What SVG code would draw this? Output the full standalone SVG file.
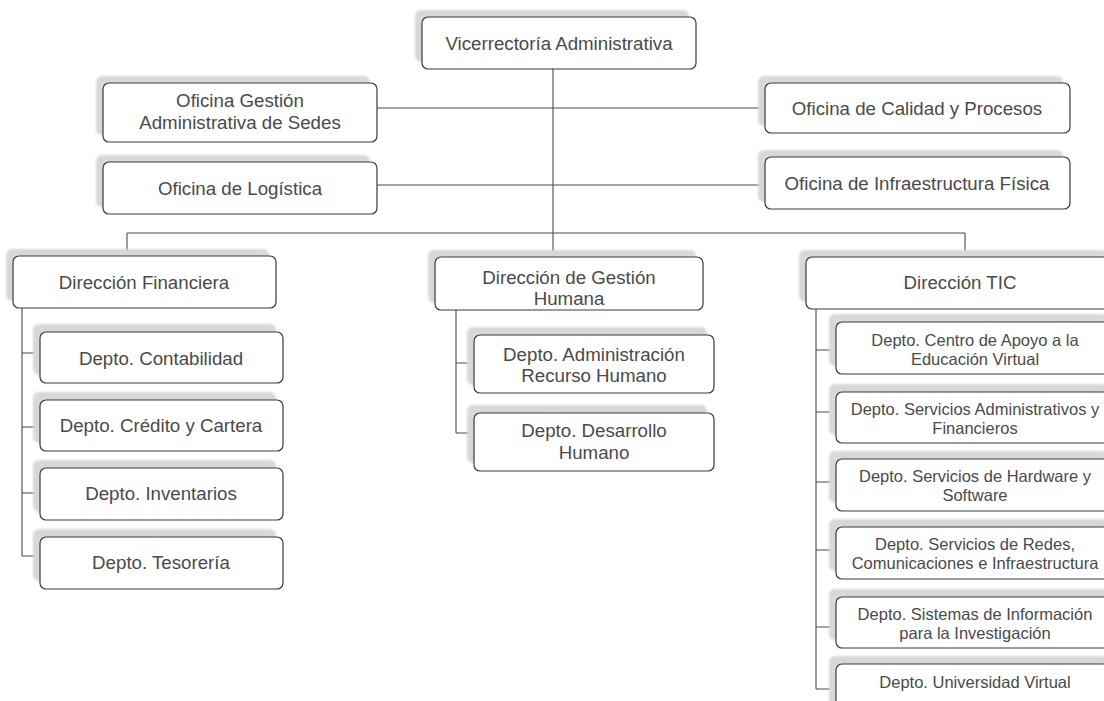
<svg xmlns="http://www.w3.org/2000/svg" width="1104" height="701" viewBox="0 0 1104 701">
<style>
.box{fill:#fff;stroke:#3a3a3a;stroke-width:1.2}
.sh{fill:#d8d8d8;filter:url(#blur)}
.t{font-family:"Liberation Sans",Arial,sans-serif;font-size:18.7px;fill:#4a4a4a;text-anchor:middle}
.s{font-size:16.5px}
.ln{stroke:#4a4a4a;stroke-width:1.1;fill:none}
</style>
<defs>
<filter id="blur" x="-5%" y="-20%" width="110%" height="140%"><feGaussianBlur stdDeviation="1.2"/></filter>
</defs>
<rect width="1104" height="701" fill="#fff"/>
<g id="connectors">
<path class="ln" d="M553 69V256M377 108H765M377 185H765M127 233H965M127 233V256M965 233V257"/>
<path class="ln" d="M22 308V556M22 353H40M22 427H40M22 493H40M22 556H40"/>
<path class="ln" d="M456 310V433M456 363H474M456 433H474"/>
<path class="ln" d="M816 309V689M816 350H836M816 412H836M816 482H836M816 550H836M816 627H836M816 689H836"/>
</g>
<g id="n-vice"><rect class="sh" x="415" y="10" width="274" height="52" rx="6"/><rect class="box" x="422" y="17" width="274" height="52" rx="6"/><text class="t" x="559" y="50">Vicerrectoría Administrativa</text></g>
<g id="n-sedes"><rect class="sh" x="96" y="76" width="274" height="59" rx="6"/><rect class="box" x="103" y="83" width="274" height="59" rx="6"/><text class="t" x="240" y="107">Oficina Gestión</text><text class="t" x="240" y="129">Administrativa de Sedes</text></g>
<g id="n-logistica"><rect class="sh" x="96" y="155" width="274" height="52" rx="6"/><rect class="box" x="103" y="162" width="274" height="52" rx="6"/><text class="t" x="240" y="195">Oficina de Logística</text></g>
<g id="n-calidad"><rect class="sh" x="758" y="76" width="305" height="50" rx="6"/><rect class="box" x="765" y="83" width="305" height="50" rx="6"/><text class="t" x="917" y="115">Oficina de Calidad  y Procesos</text></g>
<g id="n-infra"><rect class="sh" x="758" y="150" width="305" height="52" rx="6"/><rect class="box" x="765" y="157" width="305" height="52" rx="6"/><text class="t" x="917" y="190">Oficina de Infraestructura  Física</text></g>
<g id="n-financiera"><rect class="sh" x="6" y="249" width="263" height="52" rx="6"/><rect class="box" x="13" y="256" width="263" height="52" rx="6"/><text class="t" x="144" y="289">Dirección Financiera</text></g>
<g id="n-contabilidad"><rect class="sh" x="33" y="324" width="243" height="51" rx="6"/><rect class="box" x="40" y="332" width="243" height="51" rx="6"/><text class="t" x="161" y="365">Depto. Contabilidad</text></g>
<g id="n-credito"><rect class="sh" x="33" y="392" width="243" height="51" rx="6"/><rect class="box" x="40" y="400" width="243" height="51" rx="6"/><text class="t" x="161" y="432">Depto. Crédito y Cartera</text></g>
<g id="n-inventarios"><rect class="sh" x="33" y="460" width="243" height="52" rx="6"/><rect class="box" x="40" y="468" width="243" height="52" rx="6"/><text class="t" x="161" y="500">Depto. Inventarios</text></g>
<g id="n-tesoreria"><rect class="sh" x="33" y="529" width="243" height="52" rx="6"/><rect class="box" x="40" y="537" width="243" height="52" rx="6"/><text class="t" x="161" y="569">Depto. Tesorería</text></g>
<g id="n-gh"><rect class="sh" x="428" y="250" width="268" height="53" rx="6"/><rect class="box" x="435" y="257" width="268" height="53" rx="6"/><text class="t" x="569" y="284">Dirección de Gestión</text><text class="t" x="569" y="305">Humana</text></g>
<g id="n-admrh"><rect class="sh" x="467" y="327" width="240" height="58" rx="6"/><rect class="box" x="474" y="335" width="240" height="58" rx="6"/><text class="t" x="594" y="361">Depto. Administración</text><text class="t" x="594" y="382">Recurso Humano</text></g>
<g id="n-desarrollo"><rect class="sh" x="467" y="405" width="240" height="58" rx="6"/><rect class="box" x="474" y="413" width="240" height="58" rx="6"/><text class="t" x="594" y="437">Depto. Desarrollo</text><text class="t" x="594" y="459">Humano</text></g>
<g id="n-tic"><rect class="sh" x="799" y="250" width="308" height="52" rx="6"/><rect class="box" x="806" y="257" width="308" height="52" rx="6"/><text class="t" x="960" y="289">Dirección TIC</text></g>
<g id="n-centro"><rect class="sh" x="829" y="314" width="278" height="52" rx="6"/><rect class="box" x="836" y="322" width="278" height="52" rx="6"/><text class="t s" x="975" y="346">Depto. Centro de Apoyo a la</text><text class="t s" x="975" y="365">Educación Virtual</text></g>
<g id="n-servadm"><rect class="sh" x="829" y="384" width="278" height="51" rx="6"/><rect class="box" x="836" y="392" width="278" height="51" rx="6"/><text class="t s" x="975" y="415">Depto. Servicios Administrativos y</text><text class="t s" x="975" y="434">Financieros</text></g>
<g id="n-hardware"><rect class="sh" x="829" y="451" width="278" height="52" rx="6"/><rect class="box" x="836" y="459" width="278" height="52" rx="6"/><text class="t s" x="975" y="482">Depto. Servicios de Hardware y</text><text class="t s" x="975" y="501">Software</text></g>
<g id="n-redes"><rect class="sh" x="829" y="519" width="278" height="52" rx="6"/><rect class="box" x="836" y="527" width="278" height="52" rx="6"/><text class="t s" x="975" y="550">Depto. Servicios de Redes,</text><text class="t s" x="975" y="569">Comunicaciones e Infraestructura</text></g>
<g id="n-sistemas"><rect class="sh" x="829" y="589" width="278" height="51" rx="6"/><rect class="box" x="836" y="597" width="278" height="51" rx="6"/><text class="t s" x="975" y="620">Depto. Sistemas de Información</text><text class="t s" x="975" y="639">para la Investigación</text></g>
<g id="n-universidad"><rect class="sh" x="829" y="656" width="278" height="52" rx="6"/><rect class="box" x="836" y="664" width="278" height="52" rx="6"/><text class="t s" x="975" y="688">Depto. Universidad Virtual</text></g>
</svg>
